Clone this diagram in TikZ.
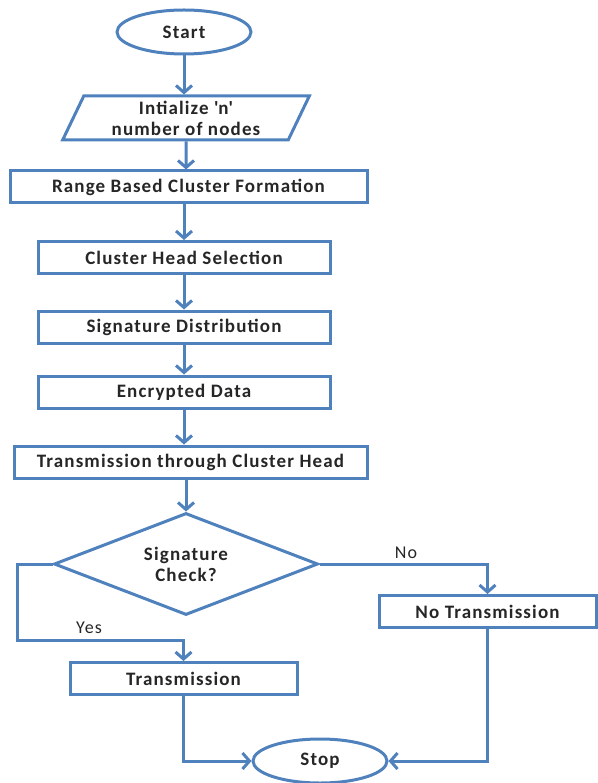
\documentclass[tikz,border=0pt]{standalone}
\usepackage{fontspec}
\setmainfont{Carlito}[LetterSpace=6]
\usetikzlibrary{shapes.geometric,arrows.meta}
\definecolor{flowblue}{RGB}{79,129,189}
\definecolor{txtgray}{RGB}{38,38,38}

\begin{document}
\begin{tikzpicture}[x=1pt, y=-1pt,
	flow/.style={draw=flowblue, line width=3pt, -{Straight Barb[length=7pt,width=16pt,line width=3pt]}},
	line/.style={draw=flowblue, line width=3pt},
	txt/.style={text=txtgray, font=\fontsize{19}{21}\selectfont\bfseries, align=center},
	term/.style={ellipse, line, txt, minimum width=134pt, minimum height=44pt, inner sep=0pt},
	io/.style={trapezium, trapezium left angle=66, trapezium right angle=114, trapezium stretches=true, line, txt, minimum width=247pt, minimum height=44pt, inner sep=0pt},
	proc/.style={rectangle, line, txt, minimum height=32pt, inner sep=0pt},
	decide/.style={diamond, aspect=2.6, line, txt, minimum width=264pt, minimum height=102pt, inner sep=0pt},
	lbl/.style={text=txtgray, font=\fontsize{18}{20}\selectfont}]
		% picture frame
		\useasboundingbox (0,0) rectangle (597,783);

		% 1. Main column
		\node[term] (start) at (184,32) {Start};
		\node[io] (init) at (186,118) {Intialize \textquotesingle n\textquotesingle\\number of nodes};
		\node[proc, minimum width=357pt] (range) at (188.5,187) {Range Based Cluster Formation};
		\node[proc, minimum width=292pt] (chsel) at (184,257.5) {Cluster Head Selection};
		\node[proc, minimum width=292pt] (sigdist) at (184,327) {Signature Distribution};
		\node[proc, minimum width=292pt] (encdata) at (184,392) {Encrypted Data};
		\node[proc, minimum width=353pt] (trans) at (190.5,462) {Transmission through Cluster Head};

		% 2. Decision and branches
		\node[decide] (check) at (186,564) {Signature\\Check?};
		\node[proc, minimum width=227pt] (transm) at (183.5,678.5) {Transmission};
		\node[proc, minimum width=217pt] (notrans) at (487.5,611.5) {No Transmission};
		\node[term] (stop) at (320,761) {Stop};

		% bend points of the yes branch
		\coordinate (yesbend) at (17,640);

		% 3. Arrows
		\draw[flow] (start) -- (start |- init.north);
		\draw[flow] (init) -- (init |- range.north);
		\draw[flow] (184,202) -- (chsel.north);
		\draw[flow] (chsel) -- (sigdist);
		\draw[flow] (sigdist) -- (encdata);
		\draw[flow] (encdata.south) -- (encdata.south |- trans.north);
		\draw[flow] (trans.south -| check.north) -- (check.north);

		% yes / no
		\draw[flow] (check.west) -| (yesbend) -| (transm.north);
		\draw[flow] (check.east) -| (notrans.north);
		\node[lbl] (yes) at (89,628) {Yes};
		\node[lbl] (no) at (406,553) {No};

		% 4. Into stop
		\draw[flow] (transm.south) |- (stop.west);
		\draw[flow] (notrans.south) |- (stop.east);
	\end{tikzpicture}
\end{document}
